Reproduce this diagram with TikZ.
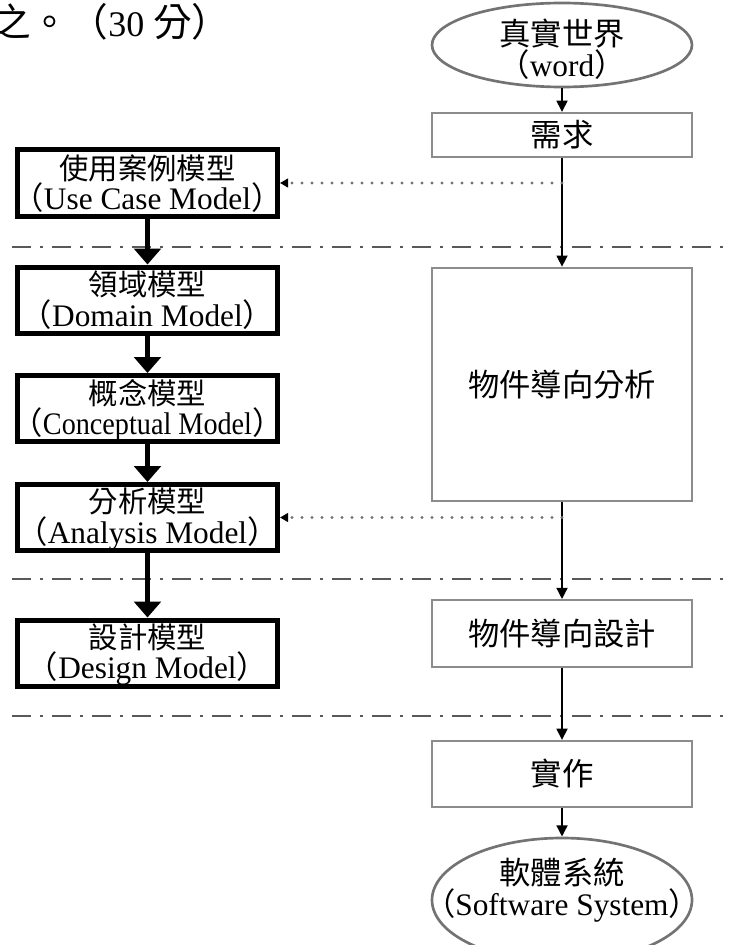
\documentclass[tikz,border=0pt]{standalone}
\usepackage{graphicx}
\usepackage{fontspec}
\setmainfont{Liberation Serif}
\newfontfamily\cjk{Noto Sans CJK TC}
\newcommand\zhs[1]{{\cjk #1}}
\newcommand\zhl[1]{{\cjk\fontsize{22}{19.5}\selectfont #1}}
\newcommand\topst{\rule{0pt}{21pt}}
\newcommand\botst{\rule[-6pt]{0pt}{6pt}}
\usetikzlibrary{arrows.meta,shapes.geometric}
\begin{document}
\begin{tikzpicture}[x=0.75pt,y=-0.75pt,
  sepline/.style={black!65, line width=2pt, dash pattern=on 14pt off 7pt on 2pt off 7pt},
  rbox/.style={rectangle, draw=black!45, line width=1.5pt, inner sep=0pt, minimum width=195.5pt, font=\cjk\fontsize{23.5}{20.5}\selectfont},
  lbox/.style={rectangle, draw=black, line width=3.75pt, inner sep=0pt, minimum width=195pt, minimum height=49.5pt},
  ellbox/.style={ellipse, draw=black!55, line width=2pt, inner sep=0pt},
  txt/.style={align=center, inner sep=0pt, font=\fontsize{23.5}{20.5}\selectfont},
  ltxt/.style={align=center, inner sep=0pt, font=\fontsize{23.5}{19.5}\selectfont},
  rarr/.style={line width=2pt, -{Triangle[length=8.5pt,width=8pt]}},
  larr/.style={line width=3.75pt, -{Triangle[length=12pt,width=20pt]}},
  darr/.style={black!55, line width=2.6pt, line cap=round, dash pattern=on 0pt off 7.5pt, -{Triangle[length=6pt,width=6.5pt,color=black]}}
]
\useasboundingbox (0,0) rectangle (731,945);

% separator lines
\draw[sepline] (12,247) -- (731,247);
\draw[sepline] (12,579) -- (731,579);
\draw[sepline] (12,716) -- (731,716);

% heading fragment
\node[anchor=base west, inner sep=0pt, font=\fontsize{27}{27}\selectfont] (qtext) at (-8,37)
  {{\cjk\fontsize{29}{29}\selectfont 之。（}30 {\cjk\fontsize{29}{29}\selectfont 分）}};

% right column
\node[ellbox, minimum width=195pt, minimum height=63pt] (world) at (562,45) {};
\node[txt] (worldt) at (562,51) {\topst\zhs{真實世界}\\\zhs{（}word\zhs{）}\botst};
\node[rbox, minimum height=33pt] (req) at (562,135) {需求};
\node[rbox, minimum height=175pt] (ooa) at (562,384.5) {物件導向分析};
\node[rbox, minimum height=50pt] (ood) at (562,633.5) {物件導向設計};
\node[rbox, minimum height=49.5pt] (impl) at (562,774) {實作};
\node[ellbox, minimum width=195pt, minimum height=93pt] (sw) at (562,900) {};
\node[txt] (swt) at (562,890) {\topst\zhs{軟體系統}\\\zhs{（}Software System\zhs{）}\botst};

% left column
\node[lbox] (uc) at (147.5,183) {};
\node[ltxt] (uct) at (147.5,184.5) {\topst\zhl{使用案例模型}\\\zhs{（}Use Case Model\zhs{）}\botst};
\node[lbox] (dm) at (147.5,300) {};
\node[ltxt] (dmt) at (147.5,301) {\topst\zhl{領域模型}\\\zhs{（}Domain Model\zhs{）}\botst};
\node[lbox] (cm) at (147.5,408.5) {};
\node[ltxt] (cmt) at (147.5,409.5) {\topst\zhl{概念模型}\\\zhs{（}\scalebox{0.9}[1]{Conceptual Model}\zhs{）}\botst};
\node[lbox] (am) at (147.5,517.5) {};
\node[ltxt] (amt) at (147.5,518) {\topst\zhl{分析模型}\\\zhs{（}Analysis Model\zhs{）}\botst};
\node[lbox] (dsm) at (147.5,653) {};
\node[ltxt] (dsmt) at (147.5,653.5) {\topst\zhl{設計模型}\\\zhs{（}Design Model\zhs{）}\botst};

% right arrows
\draw[rarr] (world.south) -- (req.north);
\draw[rarr] (req.south) -- (ooa.north);
\draw[rarr] (ooa.south) -- (ood.north);
\draw[rarr] (ood.south) -- (impl.north);
\draw[rarr] (impl.south) -- (sw.north);

% left arrows
\draw[larr] (uc.south) -- (dm.north);
\draw[larr] (dm.south) -- (cm.north);
\draw[larr] (cm.south) -- (am.north);
\draw[larr] (am.south) -- (dsm.north);

% dotted feedback arrows
\coordinate (d1) at (562,183);
\coordinate (d2) at (562,517.5);
\draw[darr] (d1) -- (uc.east);
\draw[darr] (d2) -- (am.east);
\end{tikzpicture}
\end{document}
